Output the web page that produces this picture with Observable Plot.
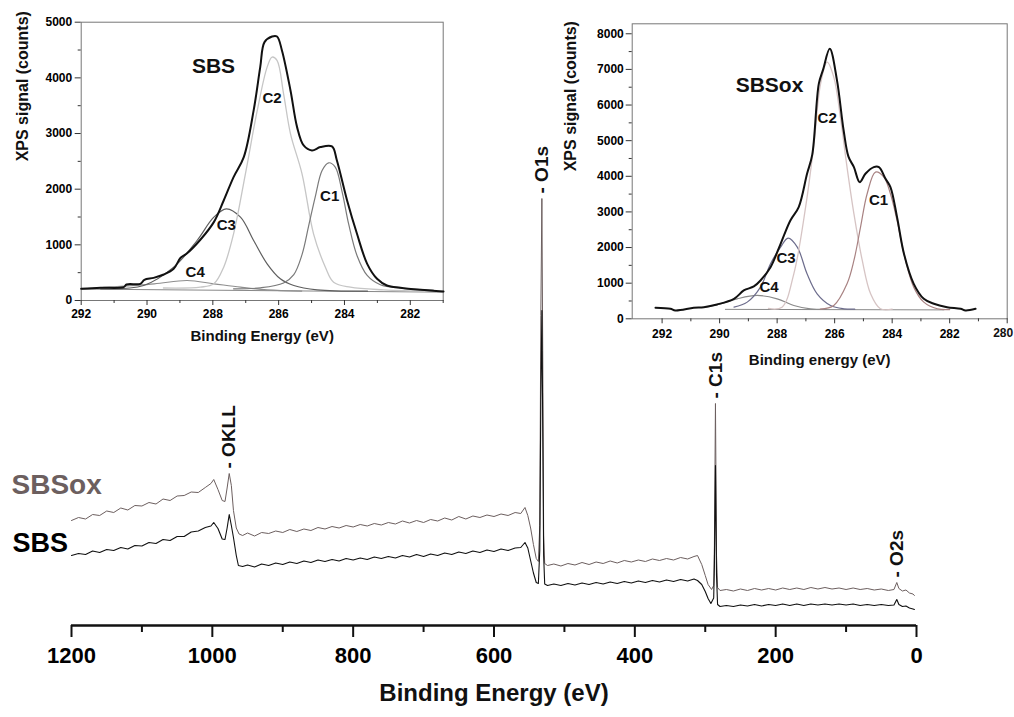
<!DOCTYPE html>
<html><head><meta charset="utf-8">
<script src="https://cdn.jsdelivr.net/npm/d3@7"></script>
<script src="https://cdn.jsdelivr.net/npm/@observablehq/plot@0.6"></script>
<style>
body{margin:0;background:#fff;}
#wrap{position:relative;width:1014px;height:717px;overflow:hidden;background:#fff;}
#wrap svg{position:absolute;}
</style></head><body><div id="wrap"></div>
<script>
// ---------- DATA ----------
// Survey spectra: [binding energy (eV), intensity (a.u.)]
const sbsoxSurvey = [[1200,21.0],[1190,21.6],[1180,21.3],[1170,22.2],[1160,22.0],[1150,22.9],[1140,22.6],[1130,23.5],[1120,23.1],[1110,24.0],[1100,23.9],[1090,24.6],[1080,24.3],[1070,25.3],[1060,25.0],[1050,25.9],[1040,26.0],[1030,26.7],[1020,26.6],[1010,27.6],[1002,28.4],[998,29.2],[992,27.2],[986,25.0],[982,24.8],[979,27.5],[976,30.4],[973,28.0],[970,23.0],[966,19.5],[962,18.3],[957,18.0],[950,18.5],[940,17.9],[930,18.6],[920,18.4],[910,18.9],[900,18.6],[890,19.2],[880,18.8],[870,19.3],[860,19.0],[850,19.6],[840,19.3],[830,19.8],[820,19.5],[810,20.0],[800,19.7],[790,20.2],[780,19.9],[770,20.4],[760,20.1],[750,20.6],[740,20.3],[730,20.9],[720,20.5],[710,21.0],[700,20.6],[690,21.2],[680,20.9],[670,21.5],[660,21.1],[650,21.8],[640,21.3],[630,21.9],[620,21.6],[610,22.1],[600,21.8],[590,22.3],[580,22.0],[570,22.6],[562,22.4],[556,23.6],[552,22.0],[548,19.5],[544,16.2],[540,13.4],[537,12.8],[535,20.0],[533.5,62],[532,85.4],[530.8,55],[529.5,18],[528,12.4],[524,12.0],[515,12.3],[505,11.9],[495,12.4],[485,12.1],[475,12.6],[465,12.2],[455,12.7],[445,12.4],[435,12.9],[425,12.5],[415,13.0],[405,12.7],[395,13.1],[385,12.8],[375,13.3],[365,13.0],[355,13.4],[345,13.1],[335,13.6],[325,13.3],[316,13.8],[311,14.0],[305,12.2],[300,10.0],[296,8.2],[291,7.2],[288,8.0],[287,16],[285.5,44.4],[284,14],[282.5,7.6],[279,7.0],[270,7.2],[260,6.9],[250,7.3],[240,7.0],[230,7.4],[220,7.1],[210,7.4],[200,7.1],[190,7.5],[180,7.2],[170,7.5],[160,7.2],[150,7.6],[140,7.3],[130,7.6],[120,7.3],[110,7.5],[100,7.2],[90,7.5],[80,7.2],[70,7.4],[60,7.1],[50,7.3],[40,7.0],[32,7.2],[28,8.6],[25,7.4],[20,6.9],[15,7.1],[10,6.5],[5,6.3],[3,6.0]];
const sbsSurvey = [[1200,14.0],[1190,14.4],[1180,14.2],[1170,14.9],[1160,14.6],[1150,15.2],[1140,15.0],[1130,15.6],[1120,15.3],[1110,16.0],[1100,15.9],[1090,16.6],[1080,16.4],[1070,17.2],[1060,17.0],[1050,17.8],[1040,17.8],[1030,18.7],[1020,18.9],[1010,19.6],[1002,19.9],[998,20.6],[992,19.4],[986,17.3],[982,17.2],[979,19.5],[976,22.2],[973,20.0],[970,17.6],[966,14.0],[963,12.0],[957,11.8],[950,12.1],[940,11.7],[930,12.3],[920,12.0],[910,12.5],[900,12.2],[890,12.7],[880,12.4],[870,12.9],[860,12.6],[850,13.1],[840,12.8],[830,13.2],[820,12.9],[810,13.4],[800,13.1],[790,13.5],[780,13.2],[770,13.7],[760,13.4],[750,13.8],[740,13.5],[730,14.0],[720,13.7],[710,14.2],[700,13.8],[690,14.3],[680,14.0],[670,14.5],[660,14.2],[650,14.7],[640,14.4],[630,14.9],[620,14.6],[610,15.1],[600,14.8],[590,15.3],[580,15.0],[570,15.5],[562,15.6],[556,16.6],[552,15.5],[548,13.0],[544,10.5],[540,8.6],[537,8.4],[535,15.0],[533.5,45],[532,63.0],[530.8,40],[529.5,14],[528,8.3],[524,8.0],[515,8.3],[505,8.0],[495,8.4],[485,8.1],[475,8.5],[465,8.2],[455,8.6],[445,8.3],[435,8.7],[425,8.4],[415,8.8],[405,8.5],[395,8.9],[385,8.6],[375,9.0],[365,8.7],[355,9.1],[345,8.8],[335,9.2],[325,8.9],[316,9.3],[311,9.0],[305,8.2],[300,6.8],[296,5.4],[292,4.4],[288,5.5],[287,12],[285.5,32.0],[284,10],[282.5,4.2],[279,3.8],[270,4.0],[260,3.8],[250,4.1],[240,3.9],[230,4.2],[220,3.9],[210,4.2],[200,4.0],[190,4.3],[180,4.0],[170,4.3],[160,4.0],[150,4.3],[140,4.1],[130,4.3],[120,4.1],[110,4.3],[100,4.1],[90,4.3],[80,4.0],[70,4.2],[60,4.0],[50,4.2],[40,4.0],[32,4.1],[28,5.2],[25,4.2],[20,3.8],[15,3.9],[10,3.5],[5,3.3],[3,3.2]];
const surveyPeaks = ["OKLL","O1s","C1s","O2s"];
const surveyPeakEnergies = [976, 532, 285.5, 28];
const surveyTicks = [1200,1000,800,600,400,200,0];
const surveyMinorTicks = [1100,900,700,500,300,100];

// C1s high-resolution, SBS: [eV, counts]
const sbsEnvelope = [[292.0,210],[291.41,228],[290.71,240],[290.62,288],[290.2,300],[290.08,372],[289.8,407],[289.49,467],[289.19,569],[288.98,767],[288.8,839],[288.38,1091],[287.97,1408],[287.67,1797],[287.37,2217],[287.06,2576],[286.76,3415],[286.56,4193],[286.43,4642],[286.2,4744],[286.05,4744],[285.9,4493],[285.64,3774],[285.44,3115],[285.24,2785],[284.99,2696],[284.73,2756],[284.38,2768],[284.23,2516],[283.92,1797],[283.62,1198],[283.31,659],[283.01,390],[282.71,270],[282.30,228],[281.7,192],[280.99,162]];
const sbsC1 = [[287.37,210],[286.55,228],[285.85,315],[285.54,464],[285.29,823],[285.09,1336],[284.89,1857],[284.68,2336],[284.48,2474],[284.28,2396],[284.07,1947],[283.87,1366],[283.62,809],[283.31,450],[282.91,282],[282.3,222],[281.3,185]];
const sbsC2 = [[289.5,225],[288.38,240],[287.97,300],[287.67,599],[287.37,1198],[287.01,2276],[286.65,3415],[286.35,4193],[286.2,4373],[286.05,4313],[285.85,3714],[285.64,2995],[285.29,2276],[284.94,1198],[284.58,599],[284.33,330],[283.82,240],[282.81,192],[281.3,168]];
const sbsC3 = [[291.41,210],[290.10,270],[289.19,599],[288.48,1078],[287.97,1497],[287.59,1647],[287.16,1497],[286.76,1078],[286.35,659],[285.95,390],[285.54,270],[284.83,192],[283.3,168]];
const sbsC4 = [[292.0,204],[291.41,228],[289.78,300],[288.78,359],[287.97,300],[287.16,240],[286.35,192],[285.3,170]];
const sbsBaseline = [[292,205],[281,150]];

// C1s high-resolution, SBSox: [eV, counts]
const sbsoxEnvelope = [[292.23,309],[291.71,281],[291.54,234],[290.9,309],[290.55,327],[290.09,402],[289.5,561],[289.16,795],[288.81,908],[288.58,1076],[288.23,1450],[287.88,2105],[287.54,2760],[287.25,3135],[286.96,4070],[286.78,4600],[286.55,6600],[286.4,7000],[286.17,7579],[285.92,6700],[285.69,5300],[285.52,4550],[285.33,4257],[285.13,3836],[284.93,4070],[284.64,4257],[284.46,4257],[284.23,3930],[284.06,3696],[283.83,2854],[283.59,1825],[283.25,982],[282.9,561],[282.55,421],[282.09,327],[281.62,281],[281.45,234],[281.1,281]];
const sbsoxC1 = [[286.5,270],[286.03,374],[285.57,982],[285.33,1637],[285.1,2573],[284.87,3509],[284.58,4117],[284.29,3977],[284.06,3509],[283.83,2760],[283.59,1825],[283.25,889],[282.9,468],[282.43,281],[282.0,260]];
const sbsoxC2 = [[288.3,290],[287.83,327],[287.42,1263],[287.01,3135],[286.72,4912],[286.49,6597],[286.26,7205],[286.03,6784],[285.8,5661],[285.57,4257],[285.33,2947],[285.04,1637],[284.75,702],[284.41,281],[284.0,270]];
const sbsoxC3 = [[289.5,327],[289.04,468],[288.58,889],[288.23,1544],[287.88,2012],[287.62,2264],[287.3,2012],[286.96,1263],[286.61,702],[286.14,374],[285.68,281],[285.3,270]];
const sbsoxC4 = [[290.5,320],[289.97,421],[289.39,561],[288.7,655],[288.0,561],[287.42,374],[286.84,281],[286.3,265]];
const sbsoxBaseline = [[289.8,265],[282.2,250]];

const insetSbsXTicks = [292,290,288,286,284,282];
const insetSbsXMinor = [291,289,287,285,283,281];
const insetSbsYTicks = [0,1000,2000,3000,4000,5000];
const insetSbsYMinor = [500,1500,2500,3500,4500];
const insetOxXTicks = [292,290,288,286,284,282,280];
const insetOxXMinor = [291,289,287,285,283,281];
const insetOxYTicks = [0,1000,2000,3000,4000,5000,6000,7000,8000];
const insetOxYMinor = [500,1500,2500,3500,4500,5500,6500,7500];
const componentNames = ["C1","C2","C3","C4"];

// ---------- DRAW ----------
const FONT = "Liberation Sans, Arial, Helvetica, sans-serif";
const OXC = "#6c5f5f";
const pts = a => a.map(([e, v]) => ({e, v}));
const wrap = document.getElementById("wrap");
function place(svg, left, top) { svg.style.left = left + "px"; svg.style.top = top + "px"; wrap.appendChild(svg); }

const peakTop = e => d3.max(sbsoxSurvey.filter(([x]) => Math.abs(x - e) <= 4), d => d[1]);
const peakData = surveyPeaks.map((n, i) => ({name: n, e: surveyPeakEnergies[i]}));

const main = Plot.plot({
  width: 1014, height: 717,
  marginLeft: 71, marginRight: 98, marginTop: 125, marginBottom: 92,
  x: {domain: [1200, 0], label: null},
  y: {domain: [0, 100], axis: null},
  style: {background: "transparent", fontFamily: FONT, overflow: "visible"},
  marks: [
    Plot.line(pts(sbsoxSurvey), {x: "e", y: "v", stroke: OXC, strokeWidth: 1}),
    Plot.line(pts(sbsSurvey), {x: "e", y: "v", stroke: "#111", strokeWidth: 1.1}),
    Plot.ruleY([0], {stroke: "#111", strokeWidth: 2.5}),
    Plot.axisX({ticks: surveyTicks, tickSize: 12, tickPadding: 10, strokeWidth: 2, stroke: "#111", tickFormat: d3.format("d"), fontSize: 22, fontWeight: "bold", label: null}),
    Plot.axisX({ticks: surveyMinorTicks, tickSize: 7, strokeWidth: 2, stroke: "#111", tickFormat: () => "", label: null}),
    Plot.text(["Binding Energy (eV)"], {frameAnchor: "bottom", dy: 75, fontSize: 24, fontWeight: "bold", fill: "#111"}),
    Plot.text(peakData, {x: "e", y: d => peakTop(d.e), text: d => "- " + d.name, rotate: -90, textAnchor: "start", lineAnchor: "middle", dy: -5, fontSize: 19, fontWeight: "bold", fill: "#111"}),
    Plot.text(["SBSox"], {x: sbsoxSurvey[0][0], y: sbsoxSurvey[0][1], dx: -60, dy: -35, textAnchor: "start", fontSize: 28, fontWeight: "bold", fill: OXC}),
    Plot.text(["SBS"], {x: sbsSurvey[0][0], y: sbsSurvey[0][1], dx: -59, dy: -12, textAnchor: "start", fontSize: 27, fontWeight: "bold", fill: "#000"})
  ]
});
place(main, 0, 0);

function inset(cfg) {
  const comps = [cfg.c1, cfg.c2, cfg.c3, cfg.c4];
  const labelMarks = comps.map((c, i) => {
    const pk = d3.greatest(c, d => d[1]);
    return Plot.text([componentNames[i]], {x: pk[0], y: pk[1], dx: cfg.off[i][0], dy: cfg.off[i][1], fontSize: 15, fontWeight: "bold", fill: "#111"});
  });
  const edge = cfg.xd[1];
  const fmt = d => (cfg.edgeLabel && d === edge) ? "" : String(d);
  const extra = cfg.edgeLabel ? [Plot.text([edge], {x: d => d, text: d => String(d), frameAnchor: "bottom", dy: cfg.xtp + 5 + 4.3, textAnchor: "end", dx: 6, lineAnchor: "middle", fontSize: 12, fontWeight: "bold", fill: "#111"})] : [];
  return Plot.plot({
    width: cfg.width, height: cfg.height,
    marginLeft: cfg.ml, marginRight: cfg.mr, marginTop: cfg.mt, marginBottom: cfg.mb,
    x: {domain: cfg.xd, label: null},
    y: {domain: cfg.yd, label: null},
    style: {background: "transparent", fontFamily: FONT, overflow: "visible"},
    marks: [
      Plot.frame({stroke: "#777", strokeWidth: 1}),
      Plot.axisY({ticks: cfg.yt, tickSize: 6, tickPadding: cfg.ytp, stroke: "#333", tickFormat: d3.format("d"), fontSize: 12, fontWeight: "bold", label: null}),
      Plot.axisY({ticks: cfg.ym, tickSize: 3, stroke: "#333", tickFormat: () => "", label: null}),
      Plot.axisX({ticks: cfg.xt, tickSize: 5, tickPadding: cfg.xtp, stroke: "#333", tickFormat: fmt, fontSize: 12, fontWeight: "bold", label: null}),
      Plot.axisX({ticks: cfg.xm, tickSize: 3, stroke: "#333", tickFormat: () => "", label: null}),
      ...extra,
      Plot.line(pts(cfg.base), {x: "e", y: "v", stroke: "#888", strokeWidth: 1}),
      Plot.line(pts(cfg.c4), {x: "e", y: "v", stroke: cfg.colors[3], strokeWidth: 1.2, curve: "catmull-rom"}),
      Plot.line(pts(cfg.c3), {x: "e", y: "v", stroke: cfg.colors[2], strokeWidth: 1.2, curve: "catmull-rom"}),
      Plot.line(pts(cfg.c2), {x: "e", y: "v", stroke: cfg.colors[1], strokeWidth: 1.3, curve: "catmull-rom"}),
      Plot.line(pts(cfg.c1), {x: "e", y: "v", stroke: cfg.colors[0], strokeWidth: 1.2, curve: "catmull-rom"}),
      Plot.line(pts(cfg.env), {x: "e", y: "v", stroke: "#111", strokeWidth: 2, curve: "catmull-rom"}),
      ...labelMarks,
      Plot.text([cfg.title], {frameAnchor: "top-left", dx: cfg.titlePos[0], dy: cfg.titlePos[1], textAnchor: "middle", lineAnchor: "middle", fontSize: 21, fontWeight: "bold", fill: "#111"}),
      Plot.text(["XPS signal (counts)"], {frameAnchor: "left", dx: cfg.ylo, rotate: -90, lineAnchor: "middle", fontSize: 16, fontWeight: "bold", fill: "#111"}),
      Plot.text([cfg.xlabel], {frameAnchor: "bottom", dy: cfg.xlo, lineAnchor: "middle", fontSize: 15, fontWeight: "bold", fill: "#111"})
    ]
  });
}

place(inset({
  width: 460, height: 345, ml: 80.7, mr: 17.3, mt: 21.7, mb: 45,
  xd: [292, 281], yd: [0, 5000],
  xt: insetSbsXTicks, xm: insetSbsXMinor, yt: insetSbsYTicks, ym: insetSbsYMinor,
  ytp: 3, xtp: 4, edgeLabel: false,
  env: sbsEnvelope, c1: sbsC1, c2: sbsC2, c3: sbsC3, c4: sbsC4, base: sbsBaseline,
  colors: ["#7a7a7a", "#c6c6c6", "#5e5e5e", "#8e8e8e"],
  off: [[1, 33], [0, 41], [0, 16], [8, -8]],
  title: "SBS", titlePos: [132.3, 44.3],
  xlabel: "Binding Energy (eV)", ylo: -58.7, xlo: 36
}), 0, 0);

place(inset({
  width: 474, height: 375, ml: 91.7, mr: 7.3, mt: 23.3, mb: 56.7,
  xd: [293.04, 280], yd: [0, 8280],
  xt: insetOxXTicks, xm: insetOxXMinor, yt: insetOxYTicks, ym: insetOxYMinor,
  ytp: 2.4, xtp: 5.4, edgeLabel: true,
  env: sbsoxEnvelope, c1: sbsoxC1, c2: sbsoxC2, c3: sbsoxC3, c4: sbsoxC4, base: sbsoxBaseline,
  colors: ["#a88282", "#d6c4c4", "#6c6c8c", "#8a8a8a"],
  off: [[3, 28], [0, 56], [-2, 20], [12, -8]],
  title: "SBSox", titlePos: [137.3, 61.7],
  xlabel: "Binding energy (eV)", ylo: -61.7, xlo: 41.7
}), 540, 0);
</script></body></html>
